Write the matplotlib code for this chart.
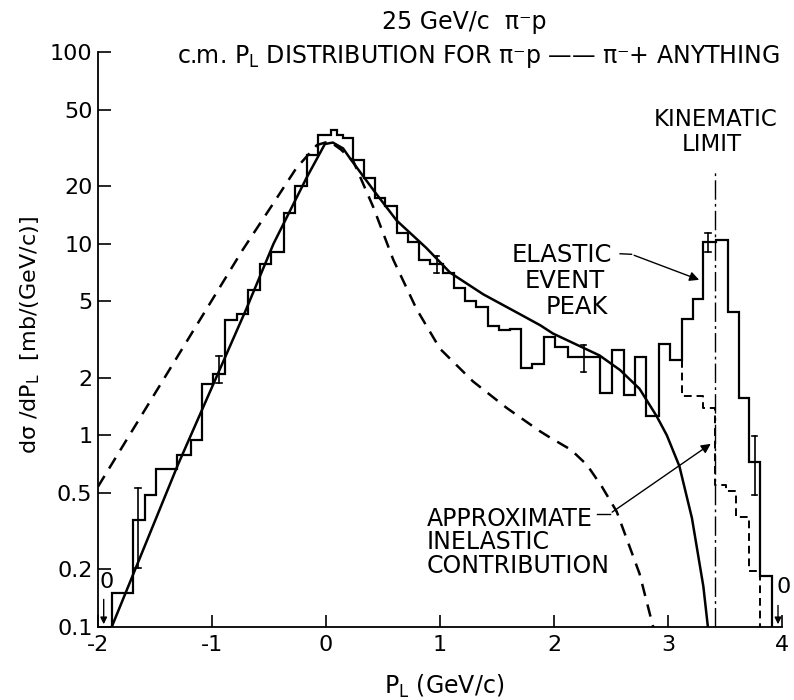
import numpy as np
import matplotlib
matplotlib.use("Agg")
import matplotlib.pyplot as plt

plt.rcParams['font.family'] = ['DejaVu Sans']
plt.rcParams['mathtext.default'] = 'regular'

# histogram of pi- p -> pi- + anything
hist_edges = [-1.88, -1.69, -1.59, -1.49, -1.40, -1.31, -1.18, -1.09, -0.99, -0.89,
              -0.78, -0.68, -0.58, -0.48, -0.37, -0.27, -0.17, -0.07, 0.04, 0.10,
              0.15, 0.24, 0.33, 0.43, 0.52, 0.62, 0.72, 0.82, 0.91, 1.03,
              1.12, 1.22, 1.32, 1.42, 1.52, 1.61, 1.71, 1.81, 1.91, 2.01,
              2.12, 2.22, 2.31, 2.40, 2.51, 2.61, 2.71, 2.81, 2.92, 3.02,
              3.12, 3.22, 3.31, 3.42, 3.53, 3.62, 3.71, 3.81, 3.91]
hist_vals = [0.15, 0.36, 0.49, 0.67, 0.67, 0.79, 0.95, 1.85, 2.1,
             4.0, 4.3, 5.7, 7.8, 9.0, 14.4, 20.0, 29.1, 37.1, 39.1,
             37.1, 35.4, 27.4, 22.1, 17.3, 15.8, 11.3, 10.2, 8.2, 7.8,
             7.0, 5.9, 5.0, 4.65, 3.7, 3.55, 3.6, 2.25, 2.35, 3.27,
             2.89, 2.57, 2.57, 2.57, 1.66, 2.8, 1.63, 2.57, 1.26, 3.0,
             2.46, 4.04, 5.13, 10.2, 10.4, 4.4, 1.57, 0.73, 0.184]

# inelastic part under the elastic peak (dashed histogram)
inel_edges = [3.12, 3.22, 3.31, 3.41, 3.51, 3.60, 3.71, 3.81]
inel_vals = [1.6, 1.6, 1.39, 0.55, 0.51, 0.375, 0.196]
inel_start = 2.46

# error bars: x, low, high
err_x = [-1.65, -0.94, 0.97, 2.26, 3.35, 3.76]
err_lo = [0.204, 1.87, 7.05, 2.15, 9.1, 0.49]
err_hi = [0.53, 2.6, 8.6, 2.97, 11.3, 0.99]

# solid fit curve
fit_x = [-1.88, -1.30, -0.70, -0.46, -0.17, -0.05, -0.01, 0.06, 0.15, 0.21, 0.42, 0.62,
         0.88, 1.09, 1.38, 1.70, 1.88, 1.99, 2.40, 2.58, 2.75, 2.90, 2.99, 3.10, 3.21, 3.31, 3.35]
fit_y = [0.10, 0.70, 4.55, 10.0, 22.1, 29.9, 33.1, 33.7, 31.4, 27.9, 18.9, 13.2,
         9.5, 7.05, 5.44, 4.29, 3.75, 3.40, 2.61, 2.19, 1.75, 1.26, 1.0, 0.69, 0.37, 0.163, 0.10]

# dashed curve
dash_x = [-2.0, -0.73, -0.46, -0.26, -0.08, 0.03, 0.13, 0.24, 0.415, 0.59, 0.795, 1.0,
          1.29, 1.585, 1.877, 1.97, 2.15, 2.29, 2.42, 2.55, 2.75, 2.87]
dash_y = [0.54, 9.3, 16.3, 24.8, 32.7, 34.2, 31.0, 26.9, 15.5, 8.25, 4.55, 2.83,
          1.91, 1.39, 1.05, 0.97, 0.84, 0.70, 0.54, 0.40, 0.19, 0.10]

kin_limit = 3.41
kin_top = 24.4

yticks = [0.1, 0.2, 0.5, 1, 2, 5, 10, 20, 50, 100]
ytick_labels = ['0.1', '0.2', '0.5', '1', '2', '5', '10', '20', '50', '100']
xticks = [-2, -1, 0, 1, 2, 3, 4]
xtick_labels = ['-2', '-1', '0', '1', '2', '3', '4']

fig = plt.figure(figsize=(7.94, 7.0), dpi=100)
ax = fig.add_axes([98/794, 1 - 627/700, 684/794, 575/700])
ax.set_yscale('log')
ax.set_xlim(-2, 4)
ax.set_ylim(0.1, 100)

# data histogram
ax.stairs(hist_vals, hist_edges, baseline=0.1, color='k', lw=1.6)

# dashed inelastic histogram
xs = np.repeat(inel_edges, 2)
ys = np.concatenate([[inel_start], np.repeat(inel_vals, 2), [0.1]])
ax.plot(xs, ys, color='k', lw=1.4, dashes=(4, 2.5))

# curves
ax.plot(fit_x, fit_y, color='k', lw=1.8)
ax.plot(dash_x, dash_y, color='k', lw=1.8, dashes=(5, 3.5))

# kinematic limit
ax.plot([kin_limit, kin_limit], [0.1, kin_top], color='k', lw=1.0, dashes=(14, 3, 2, 3))

# error bars
for x, lo, hi in zip(err_x, err_lo, err_hi):
    ax.plot([x, x], [lo, hi], color='k', lw=1.2)
    ax.plot([x - 0.025, x + 0.025], [lo, lo], color='k', lw=1.2)
    ax.plot([x - 0.025, x + 0.025], [hi, hi], color='k', lw=1.2)

# zero-count markers
ax.text(-1.92, 0.171, '0', fontsize=16, ha='center', va='center')
ax.annotate('', xy=(-1.95, 0.1), xytext=(-1.95, 0.144),
            arrowprops=dict(arrowstyle='-|>', color='k', lw=1.0, mutation_scale=10))
ax.text(4.01, 0.161, '0', fontsize=16, ha='center', va='center', clip_on=False)
ax.annotate('', xy=(3.965, 0.1), xytext=(3.965, 0.134),
            arrowprops=dict(arrowstyle='-|>', color='k', lw=1.0, mutation_scale=10),
            annotation_clip=False)

# labels in the plot
ax.text(3.42, 44.6, 'KINEMATIC', fontsize=16.5, ha='center', va='center')
ax.text(3.386, 32.8, 'LIMIT', fontsize=16.5, ha='center', va='center')

ax.text(2.51, 8.75, 'ELASTIC', fontsize=17.5, ha='right', va='center')
ax.text(2.447, 6.35, 'EVENT', fontsize=17.5, ha='right', va='center')
ax.text(2.474, 4.66, 'PEAK', fontsize=17.5, ha='right', va='center')
ax.plot([2.58, 2.68], [8.86, 8.80], color='k', lw=1.0)
ax.annotate('', xy=(3.296, 6.4), xytext=(2.68, 8.80),
            arrowprops=dict(arrowstyle='-|>', color='k', lw=1.0, mutation_scale=14))

ax.text(0.886, 0.368, 'APPROXIMATE', fontsize=17, ha='left', va='center')
ax.text(0.886, 0.278, 'INELASTIC', fontsize=17, ha='left', va='center')
ax.text(0.886, 0.207, 'CONTRIBUTION', fontsize=17, ha='left', va='center')
ax.plot([2.38, 2.49], [0.39, 0.39], color='k', lw=1.0)
ax.annotate('', xy=(3.395, 0.92), xytext=(2.49, 0.39),
            arrowprops=dict(arrowstyle='-|>', color='k', lw=1.0, mutation_scale=14))

# axes styling
for s in ['top', 'right']:
    ax.spines[s].set_visible(False)
for s in ['left', 'bottom']:
    ax.spines[s].set_linewidth(1.3)
ax.set_yticks(yticks)
ax.set_yticklabels(ytick_labels)
ax.yaxis.set_minor_locator(matplotlib.ticker.NullLocator())
ax.set_xticks(xticks)
ax.set_xticklabels(xtick_labels)
ax.tick_params(direction='in', length=9, width=1.2, labelsize=16)
ax.tick_params(axis='y', pad=4)
ax.tick_params(axis='x', pad=6)

# titles and axis labels
fig.text(464/794, 1 - 22/700, '25 GeV/c  \u03c0\u207bp', fontsize=17, ha='center', va='center')
fig.text(478/794, 1 - 57/700,
         'c.m. P$_L$ DISTRIBUTION FOR \u03c0\u207bp \u2014\u2014 \u03c0\u207b+ ANYTHING',
         fontsize=17, ha='center', va='center')
fig.text(444/794, 1 - 686/700, 'P$_L$ (GeV/c)', fontsize=17, ha='center', va='center')
fig.text(30/794, 1 - 335/700, 'd\u03c3 /dP$_L$  [mb/(GeV/c)]', fontsize=16,
         ha='center', va='center', rotation=90)

fig.savefig('out.png', dpi=100)
